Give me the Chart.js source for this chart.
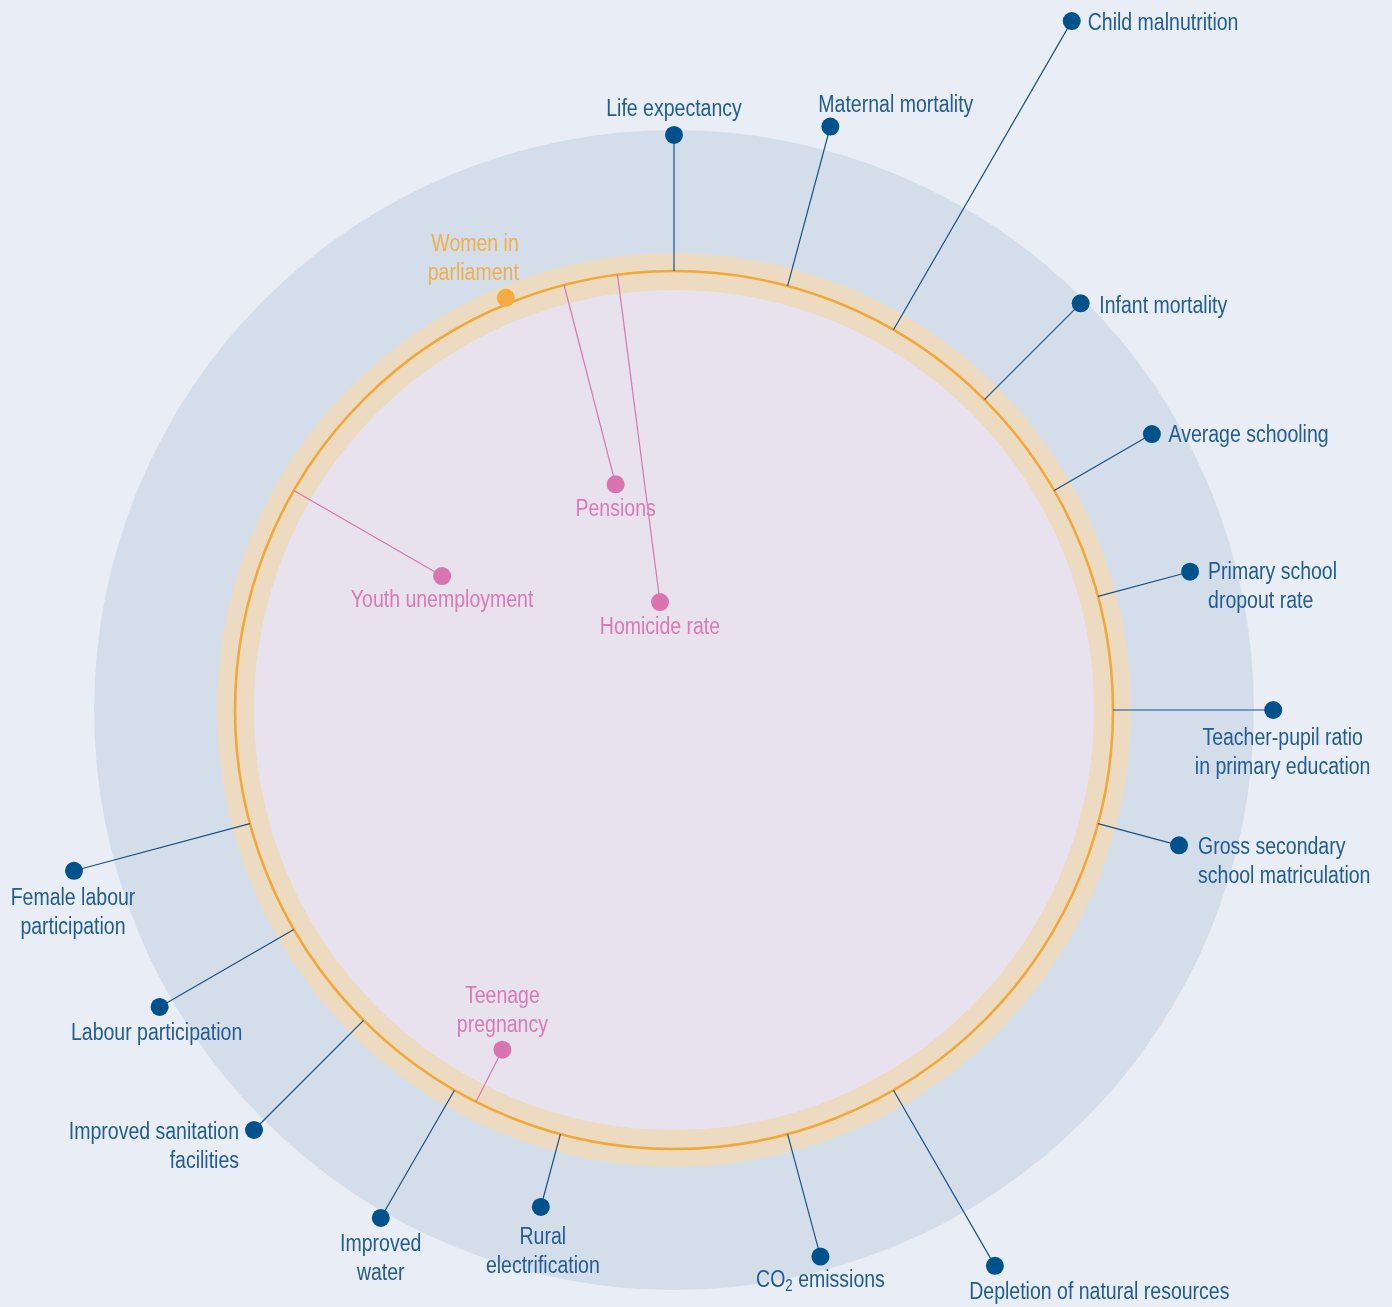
<!DOCTYPE html>
<html><head><meta charset="utf-8">
<script src="https://cdn.jsdelivr.net/npm/chart.js@4.4.0/dist/chart.umd.min.js"></script>
<style>
html,body{margin:0;padding:0;background:#E9EEF6;overflow:hidden}
#wrap{width:1392px;height:1307px;position:relative}
</style>
</head><body><div id="wrap"><canvas id="c"></canvas></div>
<script>
// ---- DATA ----
const indicators = [
  ['Life expectancy'],
  ['Maternal mortality'],
  ['Child malnutrition'],
  ['Infant mortality'],
  ['Average schooling'],
  ['Primary school', 'dropout rate'],
  ['Teacher-pupil ratio', 'in primary education'],
  ['Gross secondary', 'school matriculation'],
  ['Depletion of natural resources'],
  ['CO₂ emissions'],
  ['Rural', 'electrification'],
  ['Improved', 'water'],
  ['Improved sanitation', 'facilities'],
  ['Labour participation'],
  ['Female labour', 'participation'],
  ['Youth unemployment'],
  ['Women in', 'parliament'],
  ['Pensions'],
  ['Homicide rate'],
  ['Teenage', 'pregnancy']
];
// angle in degrees, clockwise from the top
const angles = [0, 15, 30, 45, 60, 75, 90, 105, 150, 165, 195, 210, 225, 240, 255, 300, 337.8, 345.5, 352.6, 206.8];
// value relative to the reference ring (ring = 1)
const values = [1.31, 1.376, 1.812, 1.31, 1.257, 1.217, 1.365, 1.191, 1.462, 1.289, 1.172, 1.336, 1.353, 1.353, 1.415, 0.61, 1.014, 0.531, 0.248, 0.867];
const groups = ['above','above','above','above','above','above','above','above','above','above','above','above','above','above','above','below','average','below','below','below'];

// ---- STYLE / LAYOUT ----
const PX = 439;              // pixels per unit (ring radius)
const CX = 674, CY = 710;    // centre in canvas pixels
const W = 1392, H = 1307;
const colors = {
  above: {line:'#1B5187', dot:'#00528C', text:'#215C97'},
  below: {line:'#D877B2', dot:'#D874B0', text:'#DB7AB5'},
  average: {line:'#F2AC41', dot:'#F2AC41', text:'#F2AE48'}
};
const discs = {outer:1.321, bandOuter:1.041, bandInner:0.957};
const SX = 0.83, LINE_H = 29;
const FONT = '23.5px "Liberation Sans", Arial, sans-serif';
const SUBFONT = '16px "Liberation Sans", Arial, sans-serif';
// label offset from the dot [dx, dy of first baseline, align]
const labelPlacement = [
  [0,-19,'center'], [-12,-15,'left'], [16,8.6,'left'], [18.6,9.4,'left'], [16.6,8.3,'left'],
  [18,7.6,'left'], [9.4,34.7,'center'], [19,9,'left'], [-25.7,33,'left'], [0,30.7,'center'],
  [2,36.7,'center'], [0,33,'center'], [-15,9,'right'], [-3,33.3,'center'], [-1,34.3,'center'],
  [0,30.6,'center'], [13,-47,'right'], [0,31.4,'center'], [0,32,'center'], [0,-46.6,'center']
];

function polar(v, a) {
  const r = a * Math.PI / 180;
  return {x: v * Math.sin(r), y: v * Math.cos(r)};
}

const datasets = indicators.map((name, i) => {
  const g = colors[groups[i]];
  return {
    label: name.join(' '),
    data: [polar(1, angles[i]), polar(values[i], angles[i])],
    showLine: true,
    borderColor: g.line,
    borderWidth: 1.2,
    pointRadius: [0, 9],
    pointHoverRadius: [0, 9],
    pointBackgroundColor: g.dot,
    pointBorderWidth: 0,
    pointBorderColor: g.dot,
    clip: false
  };
});

const backgroundPlugin = {
  id: 'bg',
  beforeDraw(chart) {
    const c = chart.ctx;
    c.save(); c.fillStyle = '#E9EEF6'; c.fillRect(0, 0, chart.width, chart.height); c.restore();
  },
  beforeDatasetsDraw(chart) {
    const c = chart.ctx, xs = chart.scales.x, ys = chart.scales.y;
    const cx = xs.getPixelForValue(0), cy = ys.getPixelForValue(0);
    const rad = v => xs.getPixelForValue(v) - cx;
    c.save();
    const disc = (r, col) => { c.beginPath(); c.arc(cx, cy, rad(r), 0, Math.PI * 2); c.fillStyle = col; c.fill(); };
    disc(discs.outer, '#D3DEEA');
    disc(discs.bandOuter, '#ECDBC0');
    disc(discs.bandInner, '#E7E2EE');
    c.beginPath(); c.arc(cx, cy, rad(1), 0, Math.PI * 2);
    c.strokeStyle = '#F2A838'; c.lineWidth = 2.6; c.stroke();
    c.restore();
  }
};

function drawText(c, str, x, y, align) {
  c.save();
  c.translate(x, y);
  c.scale(SX, 1);
  if (!str.includes('₂')) {
    c.font = FONT; c.textAlign = align; c.fillText(str, 0, 0);
  } else {
    const parts = str.split('₂');
    c.font = FONT; const w1 = c.measureText(parts[0]).width, w3 = c.measureText(parts[1]).width;
    c.font = SUBFONT; const w2 = c.measureText('2').width;
    const total = w1 + w2 + w3;
    const sx = align === 'center' ? -total / 2 : (align === 'right' ? -total : 0);
    c.textAlign = 'left';
    c.font = FONT; c.fillText(parts[0], sx, 0);
    c.font = SUBFONT; c.fillText('2', sx + w1, 4);
    c.font = FONT; c.fillText(parts[1], sx + w1 + w2, 0);
  }
  c.restore();
}

const labelPlugin = {
  id: 'labels',
  afterDatasetsDraw(chart) {
    const c = chart.ctx;
    c.save();
    c.textBaseline = 'alphabetic';
    indicators.forEach((lines, i) => {
      const pt = chart.getDatasetMeta(i).data[1];
      const [dx, dy, align] = labelPlacement[i];
      c.fillStyle = colors[groups[i]].text;
      lines.forEach((ln, k) => drawText(c, ln, pt.x + dx, pt.y + dy + k * LINE_H, align));
    });
    c.restore();
  }
};

new Chart(document.getElementById('c'), {
  type: 'scatter',
  data: {datasets},
  options: {
    responsive: true,
    maintainAspectRatio: false,
    animation: false,
    events: [],
    layout: {padding: 0, autoPadding: false},
    scales: {
      x: {type: 'linear', min: -CX / PX, max: (W - CX) / PX, display: false},
      y: {type: 'linear', min: -(H - CY) / PX, max: CY / PX, display: false}
    },
    plugins: {legend: {display: false}, tooltip: {enabled: false}}
  },
  plugins: [backgroundPlugin, labelPlugin]
});
</script>
</body></html>
